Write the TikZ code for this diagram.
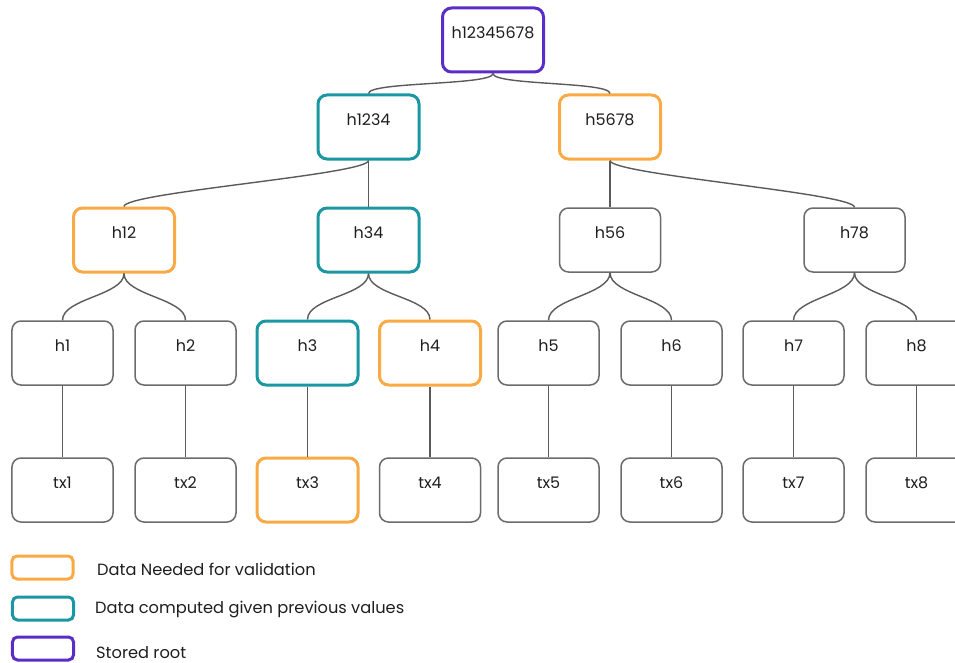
\documentclass[tikz,border=0pt]{standalone}
\usepackage{fontspec}
\setmainfont{Poppins}
\definecolor{needed}{HTML}{F9AA45}
\definecolor{computed}{HTML}{1A97A2}
\definecolor{rootc}{HTML}{5B2DC8}
\definecolor{plain}{HTML}{6B6B6B}
\definecolor{wire}{HTML}{5A5A5A}
\definecolor{ink}{HTML}{1E1E1E}

\begin{document}
\begin{tikzpicture}[x=1bp,y=1bp,
  hashbox/.style={draw=plain, line width=1.5bp, rounded corners=9bp,
    minimum width=101bp, minimum height=64bp, inner sep=0pt,
    text height=10bp, text depth=13bp,
    font=\fontsize{16}{18}\selectfont, text=ink},
  neededbox/.style={hashbox, draw=needed, line width=3bp},
  computedbox/.style={hashbox, draw=computed, line width=3bp},
  rootbox/.style={hashbox, draw=rootc, line width=3bp},
  keybox/.style={minimum width=61bp, minimum height=23bp, inner sep=0pt,
    rounded corners=5bp, line width=3bp},
  keytext/.style={anchor=west, inner sep=0pt, text=ink,
    font=\fontsize{16.3}{18}\selectfont},
  link/.style={draw=wire, line width=1.4bp},
  arc/.style={out=-90, in=90, out distance=#1, in distance=#1},
  arc/.default=12bp
]
\useasboundingbox (0,0) rectangle (955,-663);
\clip (0,0) rectangle (955,-663);

% root and upper levels
\node[rootbox]     (r)    at (493,-40)    {h12345678};
\node[computedbox] (h1234) at (368.5,-127) {h1234};
\node[neededbox]   (h5678) at (610,-127)   {h5678};
\node[neededbox]   (h12)  at (124,-240)   {h12};
\node[computedbox] (h34)  at (368.5,-240) {h34};
\node[hashbox]     (h56)  at (610,-240)   {h56};
\node[hashbox]     (h78)  at (854.5,-240) {h78};

% leaf hashes
\node[hashbox]     (h1) at (62.5,-353)  {h1};
\node[hashbox]     (h2) at (185.5,-353) {h2};
\node[computedbox] (h3) at (307.5,-353) {h3};
\node[neededbox]   (h4) at (430,-353)   {h4};
\node[hashbox]     (h5) at (548.5,-353) {h5};
\node[hashbox]     (h6) at (671.5,-353) {h6};
\node[hashbox]     (h7) at (793.5,-353) {h7};
\node[hashbox]     (h8) at (916.5,-353) {h8};

% transactions
\node[hashbox]   (tx1) at (62.5,-490)  {tx1};
\node[hashbox]   (tx2) at (185.5,-490) {tx2};
\node[neededbox] (tx3) at (307.5,-490) {tx3};
\node[hashbox]   (tx4) at (430,-490)   {tx4};
\node[hashbox]   (tx5) at (548.5,-490) {tx5};
\node[hashbox]   (tx6) at (671.5,-490) {tx6};
\node[hashbox]   (tx7) at (793.5,-490) {tx7};
\node[hashbox]   (tx8) at (916.5,-490) {tx8};

% tree connectors
\draw[link] (r.south) to[arc] (h1234.north);
\draw[link] (r.south) to[arc] (h5678.north);
\draw[link] (h1234.south) to[arc=14bp] (h12.north);
\draw[link] (h1234.south) -- (h34.north);
\draw[link] (h5678.south) -- (h56.north);
\draw[link] (h5678.south) to[arc=14bp] (h78.north);
\foreach \p/\a/\b in {h12/h1/h2, h34/h3/h4, h56/h5/h6, h78/h7/h8}{
  \draw[link] (\p.south) to[arc=22bp] (\a.north);
  \draw[link] (\p.south) to[arc=22bp] (\b.north);
}
\foreach \i in {1,...,8}{
  \draw[link] (h\i.south) -- (tx\i.north);
}

% legend
\node[keybox, draw=needed]   (k1) at (42.5,-567.5) {};
\node[keybox, draw=computed] (k2) at (43,-608.5)   {};
\node[keybox, draw=rootc]    (k3) at (43,-648.5)   {};
\node[keytext] (t1) at (97,-569) {Data Needed for validation};
\node[keytext] (t2) at (95,-610) {Data computed given previous values};
\node[keytext] (t3) at (96,-653) {Stored root};
\end{tikzpicture}
\end{document}
